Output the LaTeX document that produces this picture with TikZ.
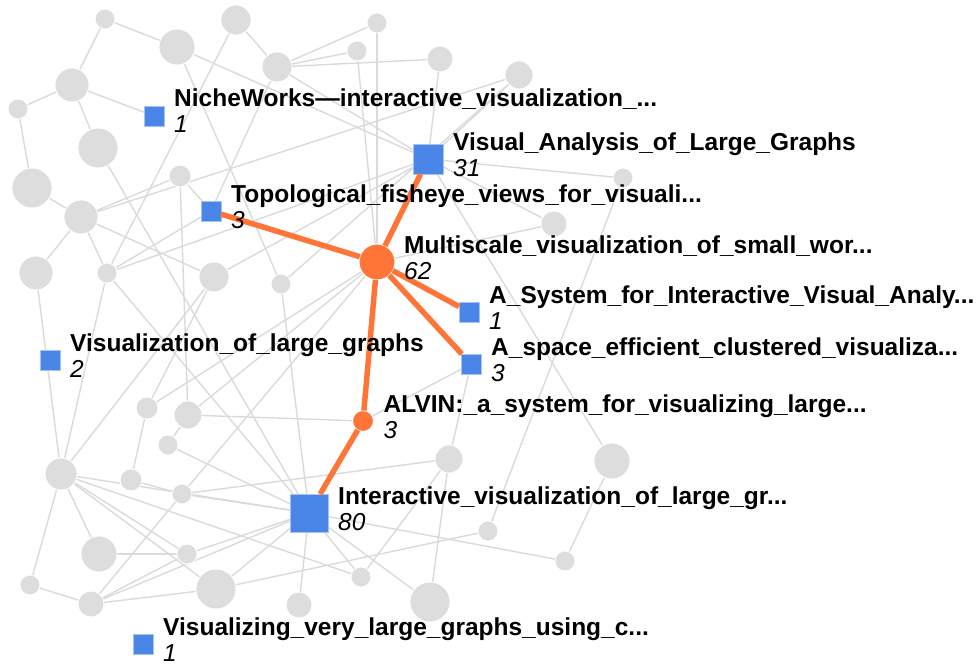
\documentclass[tikz,border=0pt]{standalone}
\usepackage{fontspec}
\setmainfont{Liberation Sans}
\usetikzlibrary{backgrounds,calc}
\definecolor{nodegray}{HTML}{DDDDDD}
\definecolor{linkgray}{HTML}{DADADA}
\definecolor{paperblue}{HTML}{4A86E8}
\definecolor{hubred}{HTML}{FF7537}

\begin{document}
\begin{tikzpicture}[
  x=1pt, y=-1pt,
  gstyle/.style={circle, inner sep=0, outer sep=0, fill=nodegray, draw=white, line width=0.8pt},
  pstyle/.style={rectangle, inner sep=0, outer sep=0, fill=paperblue, draw=paperblue!50!white, line width=0.8pt},
  hstyle/.style={circle, inner sep=0, outer sep=0, fill=hubred, draw=white, line width=1pt},
  titlestyle/.style={anchor=base west, inner sep=0, font=\fontsize{24.5}{26}\selectfont\bfseries},
  numstyle/.style={anchor=base west, inner sep=0, font=\fontsize{24.5}{26}\selectfont\itshape},
  linkstyle/.style={draw=linkgray, line width=1.4pt},
  hubstyle/.style={draw=hubred, line width=5.5pt}
]
  \useasboundingbox (0,0) rectangle (977,666);

  % background graph
  \node[gstyle, minimum size=20] (G1) at (105,19) {};
  \node[gstyle, minimum size=36] (G2) at (177,47) {};
  \node[gstyle, minimum size=30] (G3) at (236,20) {};
  \node[gstyle, minimum size=30] (G4) at (277,67) {};
  \node[gstyle, minimum size=34] (G5) at (72,85) {};
  \node[gstyle, minimum size=20] (G6) at (18,109) {};
  \node[gstyle, minimum size=40] (G7) at (98,148) {};
  \node[gstyle, minimum size=40] (G8) at (32,188) {};
  \node[gstyle, minimum size=22] (G9) at (180,176) {};
  \node[gstyle, minimum size=34] (G10) at (81,217) {};
  \node[gstyle, minimum size=20] (G11) at (377,23) {};
  \node[gstyle, minimum size=20] (G12) at (357,51) {};
  \node[gstyle, minimum size=26] (G13) at (440,59) {};
  \node[gstyle, minimum size=28] (G14) at (519,75) {};
  \node[gstyle, minimum size=20] (G15) at (623,178) {};
  \node[gstyle, minimum size=26] (G16) at (554,224) {};
  \node[gstyle, minimum size=34] (G17) at (36,273) {};
  \node[gstyle, minimum size=20] (G18) at (107,273) {};
  \node[gstyle, minimum size=30] (G19) at (214,277) {};
  \node[gstyle, minimum size=20] (G20) at (281,284) {};
  \node[gstyle, minimum size=22] (G21) at (147,408) {};
  \node[gstyle, minimum size=28] (G22) at (188,415) {};
  \node[gstyle, minimum size=20] (G23) at (168,445) {};
  \node[gstyle, minimum size=32] (G24) at (61,474) {};
  \node[gstyle, minimum size=22] (G25) at (131,480) {};
  \node[gstyle, minimum size=20] (G26) at (182,494) {};
  \node[gstyle, minimum size=36] (G27) at (99,554) {};
  \node[gstyle, minimum size=20] (G28) at (187,554) {};
  \node[gstyle, minimum size=20] (G29) at (30,585) {};
  \node[gstyle, minimum size=26] (G30) at (91,604) {};
  \node[gstyle, minimum size=40] (G31) at (216,589) {};
  \node[gstyle, minimum size=26] (G32) at (299,605) {};
  \node[gstyle, minimum size=28] (G33) at (449,459) {};
  \node[gstyle, minimum size=36] (G34) at (612,461) {};
  \node[gstyle, minimum size=20] (G35) at (488,531) {};
  \node[gstyle, minimum size=20] (G36) at (565,561) {};
  \node[gstyle, minimum size=20] (G37) at (361,577) {};
  \node[gstyle, minimum size=40] (G38) at (430,602) {};

  % papers and hubs
  \node[pstyle, minimum size=20] (P1) at (154,116) {};
  \node[pstyle, minimum size=30] (P2) at (428,159) {};
  \node[pstyle, minimum size=20] (P3) at (211,211) {};
  \node[pstyle, minimum size=20] (P4) at (469,312) {};
  \node[pstyle, minimum size=20] (P5) at (471,364) {};
  \node[pstyle, minimum size=20] (P6) at (50,360) {};
  \node[pstyle, minimum size=38] (P7) at (309,513) {};
  \node[pstyle, minimum size=20] (P8) at (143,644) {};
  \node[hstyle, minimum size=36] (H1) at (377,262) {};
  \node[hstyle, minimum size=21] (H2) at (363,421) {};

  \begin{scope}[on background layer]
    \draw[linkstyle] (G1) -- (G2);
    \draw[linkstyle] (G1) -- (G5);
    \draw[linkstyle] (G5) -- (G6);
    \draw[linkstyle] (G5) -- (P1);
    \draw[linkstyle] (G5) -- (G7);
    \draw[linkstyle] (G6) -- (G8);
    \draw[linkstyle] (G8) -- (G10);
    \draw[linkstyle] (G10) -- (G9);
    \draw[linkstyle] (G10) -- (G17);
    \draw[linkstyle] (G10) -- (G18);
    \draw[linkstyle] (G10) -- (G14);
    \draw[linkstyle] (G10) -- (G19);
    \draw[linkstyle] (G3) -- (G4);
    \draw[linkstyle] (G3) -- (G18);
    \draw[linkstyle] (G2) -- (G20);
    \draw[linkstyle] (G2) -- (P2);
    \draw[linkstyle] (G4) -- (P3);
    \draw[linkstyle] (G4) -- (G11);
    \draw[linkstyle] (G4) -- (G12);
    \draw[linkstyle] (G4) -- (G13);
    \draw[linkstyle] (G4) -- (P2);
    \draw[linkstyle] (G9) -- (P3);
    \draw[linkstyle] (G9) -- (G22);
    \draw[linkstyle] (G18) -- (P3);
    \draw[linkstyle] (G18) -- (P2);
    \draw[linkstyle] (G18) -- (G24);
    \draw[linkstyle] (G18) -- (P7);
    \draw[linkstyle] (G17) -- (G24);
    \draw[linkstyle] (G7) -- (P7);
    \draw[linkstyle] (G19) -- (P2);
    \draw[linkstyle] (G19) -- (G21);
    \draw[linkstyle] (G19) -- (G24);
    \draw[linkstyle] (G20) -- (P7);
    \draw[linkstyle] (G20) -- (G14);
    \draw[linkstyle] (G11) -- (H1);
    \draw[linkstyle] (G12) -- (H1);
    \draw[linkstyle] (G13) -- (P2);
    \draw[linkstyle] (G14) -- (P2);
    \draw[linkstyle] (P2) -- (G15);
    \draw[linkstyle] (P2) -- (G16);
    \draw[linkstyle] (P2) -- (G34);
    \draw[linkstyle] (H1) -- (G16);
    \draw[linkstyle] (H1) -- (G21);
    \draw[linkstyle] (H1) -- (G22);
    \draw[linkstyle] (H1) -- (G26);
    \draw[linkstyle] (H2) -- (G22);
    \draw[linkstyle] (H2) -- (P5);
    \draw[linkstyle] (G15) -- (G35);
    \draw[linkstyle] (G34) -- (G36);
    \draw[linkstyle] (P5) -- (G33);
    \draw[linkstyle] (G26) -- (G33);
    \draw[linkstyle] (G33) -- (G37);
    \draw[linkstyle] (G33) -- (G38);
    \draw[linkstyle] (G31) -- (G35);
    \draw[linkstyle] (G24) -- (G29);
    \draw[linkstyle] (G24) -- (G27);
    \draw[linkstyle] (G24) -- (G28);
    \draw[linkstyle] (G24) -- (G31);
    \draw[linkstyle] (G24) -- (G37);
    \draw[linkstyle] (G24) -- (P7);
    \draw[linkstyle] (G25) -- (G21);
    \draw[linkstyle] (G25) -- (G26);
    \draw[linkstyle] (G23) -- (P7);
    \draw[linkstyle] (G22) -- (G23);
    \draw[linkstyle] (G26) -- (P7);
    \draw[linkstyle] (G26) -- (G30);
    \draw[linkstyle] (G27) -- (G28);
    \draw[linkstyle] (G28) -- (P7);
    \draw[linkstyle] (G28) -- (G30);
    \draw[linkstyle] (G30) -- (G31);
    \draw[linkstyle] (G30) -- (P7);
    \draw[linkstyle] (G31) -- (P7);
    \draw[linkstyle] (G32) -- (P7);
    \draw[linkstyle] (G29) -- (G30);
    \draw[linkstyle] (P7) -- (G37);
    \draw[linkstyle] (P7) -- (G38);
    \draw[linkstyle] (P7) -- (G36);
  \end{scope}

  % highlighted path
  \draw[hubstyle] (H1) -- (P3);
  \draw[hubstyle] (H1) -- (P2);
  \draw[hubstyle] (H1) -- (P4);
  \draw[hubstyle] (H1) -- (P5);
  \draw[hubstyle] (H1) -- (H2);
  \draw[hubstyle] (H2) -- (P7);

  % labels
  \node[titlestyle] (T1) at ($(P1.east)+(10,-9)$) {NicheWorks—interactive\_visualization\_...};
  \node[numstyle] (N1) at ($(T1.base west)+(0,26)$) {1};
  \node[titlestyle] (T2) at ($(P2.east)+(10,-9)$) {Visual\_Analysis\_of\_Large\_Graphs};
  \node[numstyle] (N2) at ($(T2.base west)+(0,26)$) {31};
  \node[titlestyle] (T3) at ($(P3.east)+(10,-9)$) {Topological\_fisheye\_views\_for\_visuali...};
  \node[numstyle] (N3) at ($(T3.base west)+(0,26)$) {3};
  \node[titlestyle] (TH1) at ($(H1.east)+(9,-9)$) {Multiscale\_visualization\_of\_small\_wor...};
  \node[numstyle] (NH1) at ($(TH1.base west)+(0,26)$) {62};
  \node[titlestyle] (T4) at ($(P4.east)+(10,-9)$) {A\_System\_for\_Interactive\_Visual\_Analy...};
  \node[numstyle] (N4) at ($(T4.base west)+(0,26)$) {1};
  \node[titlestyle] (T5) at ($(P5.east)+(10,-9)$) {A\_space\_efficient\_clustered\_visualiza...};
  \node[numstyle] (N5) at ($(T5.base west)+(0,26)$) {3};
  \node[titlestyle] (T6) at ($(P6.east)+(10,-9)$) {Visualization\_of\_large\_graphs};
  \node[numstyle] (N6) at ($(T6.base west)+(0,26)$) {2};
  \node[titlestyle] (TH2) at ($(H2.east)+(10,-9)$) {ALVIN:\_a\_system\_for\_visualizing\_large...};
  \node[numstyle] (NH2) at ($(TH2.base west)+(0,26)$) {3};
  \node[titlestyle] (T7) at ($(P7.east)+(10,-9)$) {Interactive\_visualization\_of\_large\_gr...};
  \node[numstyle] (N7) at ($(T7.base west)+(0,26)$) {80};
  \node[titlestyle] (T8) at ($(P8.east)+(10,-9)$) {Visualizing\_very\_large\_graphs\_using\_c...};
  \node[numstyle] (N8) at ($(T8.base west)+(0,26)$) {1};
\end{tikzpicture}
\end{document}
